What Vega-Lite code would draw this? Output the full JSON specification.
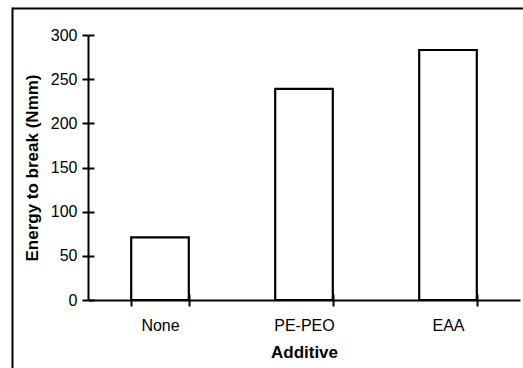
{
  "$schema": "https://vega.github.io/schema/vega-lite/v6.json",
  "width": 432,
  "height": 265,
  "autosize": {"type": "none"},
  "padding": {"left": 88, "top": 35, "right": 3, "bottom": 68},
  "background": "white",
  "config": {
    "view": {"stroke": null},
    "font": "Liberation Sans",
    "axis": {
      "domainColor": "black",
      "domainWidth": 2,
      "tickColor": "black",
      "tickWidth": 2,
      "tickSize": 6,
      "labelColor": "black",
      "titleColor": "black",
      "labelFont": "Liberation Sans",
      "titleFont": "Liberation Sans",
      "labelFontSize": 16,
      "titleFontSize": 17,
      "titleFontWeight": "bold",
      "grid": false
    }
  },
  "data": {
    "values": [
      {"Additive": "None", "Energy": 71},
      {"Additive": "PE-PEO", "Energy": 239},
      {"Additive": "EAA", "Energy": 283}
    ]
  },
  "resolve": {"scale": {"x": "independent", "y": "independent"}},
  "layer": [
    {
      "mark": {"type": "bar", "fill": "white", "stroke": "black", "strokeWidth": 2.2},
      "encoding": {
        "x": {
          "field": "Additive",
          "type": "nominal",
          "sort": null,
          "scale": {"paddingInner": 0.6, "paddingOuter": 0.3},
          "axis": {
            "orient": "bottom",
            "domain": true,
            "title": "Additive",
            "labelAngle": 0,
            "tickBand": "extent",
            "labelPadding": 11,
            "titlePadding": 11
          }
        },
        "y": {
          "field": "Energy",
          "type": "quantitative",
          "scale": {"domain": [0, 300], "nice": false},
          "axis": {
            "orient": "left",
            "domain": true,
            "title": "Energy to break (Nmm)",
            "values": [0, 50, 100, 150, 200, 250, 300],
            "labelPadding": 5,
            "titlePadding": 9
          }
        }
      }
    },
    {
      "mark": {"type": "bar", "opacity": 0},
      "encoding": {
        "x": {
          "field": "Additive",
          "type": "nominal",
          "sort": null,
          "scale": {"paddingInner": 0.6, "paddingOuter": 0.3},
          "axis": {"orient": "bottom", "title": null, "labels": false, "domain": false, "offset": -6, "tickBand": "extent"}
        },
        "y": {
          "field": "Energy",
          "type": "quantitative",
          "scale": {"domain": [0, 300], "nice": false},
          "axis": {"orient": "left", "title": null, "labels": false, "domain": false, "offset": -6, "values": [0, 50, 100, 150, 200, 250, 300]}
        }
      }
    },
    {
      "data": {"values": [{"fx": 0, "fy": 0}]},
      "mark": {"type": "point", "opacity": 0},
      "encoding": {
        "x": {
          "field": "fx",
          "type": "quantitative",
          "scale": {"domain": [0, 1], "range": [-76, 436]},
          "axis": {"orient": "top", "offset": 27, "ticks": false, "labels": false, "title": null}
        },
        "y": {
          "field": "fy",
          "type": "quantitative",
          "scale": {"domain": [0, 1], "range": [334, -28]},
          "axis": {"orient": "left", "offset": 76, "ticks": false, "labels": false, "title": null}
        }
      }
    }
  ]
}
